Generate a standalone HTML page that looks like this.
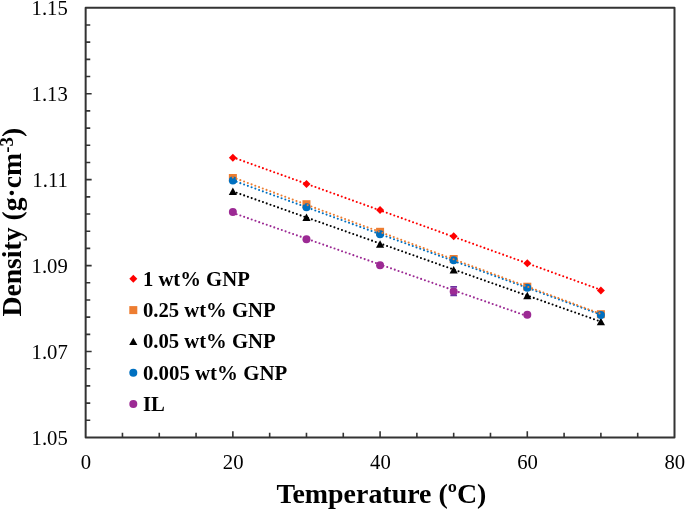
<!DOCTYPE html>
<html><head><meta charset="utf-8"><style>
html,body{margin:0;padding:0;background:#fff;}
svg{display:block;filter:blur(0.4px);}
text{font-family:"Liberation Serif",serif;fill:#000;}
.tl{font-size:20.7px;fill:#000;}
.lg{font-size:20.7px;font-weight:bold;}
.at{font-size:28px;font-weight:bold;}
</style></head><body>
<svg width="685" height="510" viewBox="0 0 685 510">
<rect x="85.65" y="7.80" width="588.85" height="429.65" fill="none" stroke="#333" stroke-width="2" stroke-linejoin="round"/>
<path d="M85.65,420.26 h4.6 M85.65,403.08 h4.6 M85.65,385.89 h4.6 M85.65,368.71 h4.6 M85.65,351.52 h6.0 M85.65,334.33 h4.6 M85.65,317.15 h4.6 M85.65,299.96 h4.6 M85.65,282.78 h4.6 M85.65,265.59 h6.0 M85.65,248.40 h4.6 M85.65,231.22 h4.6 M85.65,214.03 h4.6 M85.65,196.85 h4.6 M85.65,179.66 h6.0 M85.65,162.47 h4.6 M85.65,145.29 h4.6 M85.65,128.10 h4.6 M85.65,110.92 h4.6 M85.65,93.73 h6.0 M85.65,76.54 h4.6 M85.65,59.36 h4.6 M85.65,42.17 h4.6 M85.65,24.99 h4.6 M122.45,437.45 v-4.7 M159.26,437.45 v-4.7 M196.06,437.45 v-4.7 M232.86,437.45 v-6.3 M269.67,437.45 v-4.7 M306.47,437.45 v-4.7 M343.27,437.45 v-4.7 M380.08,437.45 v-6.3 M416.88,437.45 v-4.7 M453.68,437.45 v-4.7 M490.48,437.45 v-4.7 M527.29,437.45 v-6.3 M564.09,437.45 v-4.7 M600.89,437.45 v-4.7 M637.70,437.45 v-4.7" stroke="#333" stroke-width="1.6" fill="none"/>
<text x="67.8" y="444.55" text-anchor="end" class="tl">1.05</text>
<text x="67.8" y="358.62" text-anchor="end" class="tl">1.07</text>
<text x="67.8" y="272.69" text-anchor="end" class="tl">1.09</text>
<text x="67.8" y="186.76" text-anchor="end" class="tl">1.11</text>
<text x="67.8" y="100.83" text-anchor="end" class="tl">1.13</text>
<text x="67.8" y="14.90" text-anchor="end" class="tl">1.15</text>
<text x="85.95" y="469.2" text-anchor="middle" class="tl">0</text>
<text x="233.16" y="469.2" text-anchor="middle" class="tl">20</text>
<text x="380.38" y="469.2" text-anchor="middle" class="tl">40</text>
<text x="527.59" y="469.2" text-anchor="middle" class="tl">60</text>
<text x="674.80" y="469.2" text-anchor="middle" class="tl">80</text>
<path d="M228.86,157.70 L232.86,153.70 L236.86,157.70 L232.86,161.70 Z" fill="#FF0000"/>
<path d="M302.47,184.00 L306.47,180.00 L310.47,184.00 L306.47,188.00 Z" fill="#FF0000"/>
<path d="M376.08,209.90 L380.08,205.90 L384.08,209.90 L380.08,213.90 Z" fill="#FF0000"/>
<path d="M449.68,236.20 L453.68,232.20 L457.68,236.20 L453.68,240.20 Z" fill="#FF0000"/>
<path d="M523.29,263.30 L527.29,259.30 L531.29,263.30 L527.29,267.30 Z" fill="#FF0000"/>
<path d="M596.89,290.40 L600.89,286.40 L604.89,290.40 L600.89,294.40 Z" fill="#FF0000"/>
<rect x="228.86" y="174.00" width="8.00" height="8.00" fill="#ED7D31"/>
<rect x="302.47" y="200.20" width="8.00" height="8.00" fill="#ED7D31"/>
<rect x="376.08" y="227.80" width="8.00" height="8.00" fill="#ED7D31"/>
<rect x="449.68" y="255.00" width="8.00" height="8.00" fill="#ED7D31"/>
<rect x="523.29" y="282.70" width="8.00" height="8.00" fill="#ED7D31"/>
<rect x="596.89" y="310.20" width="8.00" height="8.00" fill="#ED7D31"/>
<path d="M232.86,187.60 L236.96,195.00 L228.76,195.00 Z" fill="#000000"/>
<path d="M306.47,213.50 L310.57,220.90 L302.37,220.90 Z" fill="#000000"/>
<path d="M380.08,240.30 L384.18,247.70 L375.98,247.70 Z" fill="#000000"/>
<path d="M453.68,266.00 L457.78,273.40 L449.58,273.40 Z" fill="#000000"/>
<path d="M527.29,291.80 L531.39,299.20 L523.19,299.20 Z" fill="#000000"/>
<path d="M600.89,317.80 L604.99,325.20 L596.79,325.20 Z" fill="#000000"/>
<circle cx="232.86" cy="180.60" r="4.00" fill="#0070C0"/>
<circle cx="306.47" cy="207.30" r="4.00" fill="#0070C0"/>
<circle cx="380.08" cy="234.20" r="4.00" fill="#0070C0"/>
<circle cx="453.68" cy="260.30" r="4.00" fill="#0070C0"/>
<circle cx="527.29" cy="287.80" r="4.00" fill="#0070C0"/>
<circle cx="600.89" cy="315.10" r="4.00" fill="#0070C0"/>
<circle cx="232.86" cy="211.90" r="4.00" fill="#9C2A94"/>
<circle cx="306.47" cy="239.20" r="4.00" fill="#9C2A94"/>
<circle cx="380.08" cy="265.20" r="4.00" fill="#9C2A94"/>
<circle cx="453.68" cy="291.40" r="4.00" fill="#9C2A94"/>
<circle cx="527.29" cy="314.85" r="4.00" fill="#9C2A94"/>
<path d="M450.33,286.85 h6.7 M450.33,295.4 h6.7" stroke="#7030A0" stroke-width="1.6" fill="none"/>
<line x1="232.86" y1="212.89" x2="527.29" y2="316.13" stroke="#9C2A94" stroke-width="2.1" stroke-linecap="round" stroke-dasharray="0 3.99"/>
<line x1="232.86" y1="191.42" x2="600.89" y2="321.65" stroke="#000000" stroke-width="2.1" stroke-linecap="round" stroke-dasharray="0 3.99"/>
<line x1="232.86" y1="180.40" x2="600.89" y2="314.70" stroke="#0070C0" stroke-width="2.1" stroke-linecap="round" stroke-dasharray="0 3.99"/>
<line x1="232.86" y1="177.39" x2="600.89" y2="313.91" stroke="#ED7D31" stroke-width="2.1" stroke-linecap="round" stroke-dasharray="0 3.99"/>
<line x1="232.86" y1="157.32" x2="600.89" y2="289.85" stroke="#FF0000" stroke-width="2.1" stroke-linecap="round" stroke-dasharray="0 3.99"/>
<path d="M129.30,278.80 L133.30,274.80 L137.30,278.80 L133.30,282.80 Z" fill="#FF0000"/>
<text x="142.9" y="285.70" class="lg">1 wt% GNP</text>
<rect x="129.30" y="306.10" width="8.00" height="8.00" fill="#ED7D31"/>
<text x="142.9" y="317.00" class="lg">0.25 wt% GNP</text>
<path d="M133.30,337.70 L137.40,345.10 L129.20,345.10 Z" fill="#000000"/>
<text x="142.9" y="348.30" class="lg">0.05 wt% GNP</text>
<circle cx="133.30" cy="372.80" r="4.00" fill="#0070C0"/>
<text x="142.9" y="379.70" class="lg" textLength="144.3" lengthAdjust="spacingAndGlyphs">0.005 wt% GNP</text>
<circle cx="133.30" cy="404.10" r="4.00" fill="#9C2A94"/>
<text x="142.9" y="411.00" class="lg">IL</text>
<text x="276.4" y="503" class="at" textLength="210" lengthAdjust="spacingAndGlyphs">Temperature (ºC)</text>
<text transform="translate(21.3,316.6) rotate(-90)" class="at" style="font-size:27.7px">Density (g·cm<tspan baseline-shift="7.7" font-size="19">-3</tspan>)</text>
</svg>
</body></html>
